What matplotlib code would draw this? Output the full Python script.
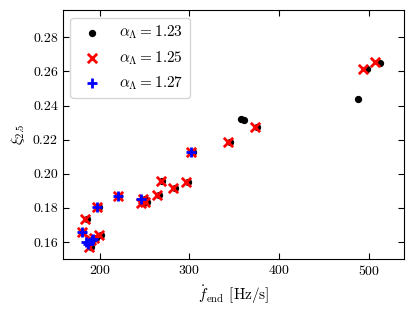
import matplotlib
matplotlib.use("Agg")
from matplotlib import pyplot as plt

plt.rcParams["font.family"] = "serif"
plt.rcParams["font.serif"] = ["cmr10", "DejaVu Serif"]
plt.rcParams["mathtext.fontset"] = "cm"
plt.rcParams["axes.formatter.use_mathtext"] = True

# alpha_Lambda = 1.23
x_123 = [186, 182, 190, 192, 196, 201, 199, 222, 248, 253, 250, 266, 270, 284, 298, 304,
         345, 358, 361, 375, 488, 497.5, 512.5]
y_123 = [0.1735, 0.1657, 0.157, 0.161, 0.1625, 0.164, 0.1805, 0.187, 0.1826, 0.1836,
         0.185, 0.1877, 0.1957, 0.1918, 0.195, 0.2128, 0.2189, 0.2322, 0.2318, 0.2274,
         0.2436, 0.2616, 0.2651]

# alpha_Lambda = 1.25
x_125 = [184, 180, 188, 190, 194, 199, 197, 220, 246, 251, 248, 264, 268, 282, 296, 302,
         343, 373, 493, 507]
y_125 = [0.1735, 0.1657, 0.157, 0.161, 0.1625, 0.164, 0.1805, 0.187, 0.1826, 0.1836,
         0.185, 0.1877, 0.1957, 0.1918, 0.195, 0.2128, 0.2189, 0.2274, 0.2612, 0.2653]

# alpha_Lambda = 1.27
x_127 = [180, 185, 187, 191, 193, 197, 220, 246, 302]
y_127 = [0.1657, 0.160, 0.1587, 0.161, 0.162, 0.1805, 0.187, 0.185, 0.2128]

fig = plt.figure(figsize=(4.16, 3.14), dpi=100)
ax = fig.add_axes([0.151, 0.175, 0.82, 0.793])

ax.scatter(x_123, y_123, s=18, color="black", marker="o", label=r"$\alpha_\Lambda = 1.23$", zorder=2)
ax.scatter(x_125, y_125, s=45, color="red", marker="x", linewidths=2, label=r"$\alpha_\Lambda = 1.25$", zorder=3)
ax.scatter(x_127, y_127, s=55, color="blue", marker="+", linewidths=2, label=r"$\alpha_\Lambda = 1.27$", zorder=4)

ax.set_xlim(159, 539)
ax.set_ylim(0.150, 0.296)
ax.set_xticks([200, 300, 400, 500])
ax.set_yticks([0.16, 0.18, 0.20, 0.22, 0.24, 0.26, 0.28])
ax.set_yticklabels(["0.16", "0.18", "0.20", "0.22", "0.24", "0.26", "0.28"])
ax.tick_params(direction="in", top=True, right=True, length=4, labelsize=10)

ax.set_xlabel(r"$\dot{f}_{\rm end}$ [Hz/s]", fontsize=11)
ax.set_ylabel(r"$\xi_{2.5}$", fontsize=11)
ax.legend(loc="upper left", fontsize=11, handletextpad=0.8)

plt.savefig("out.png", dpi=100)
